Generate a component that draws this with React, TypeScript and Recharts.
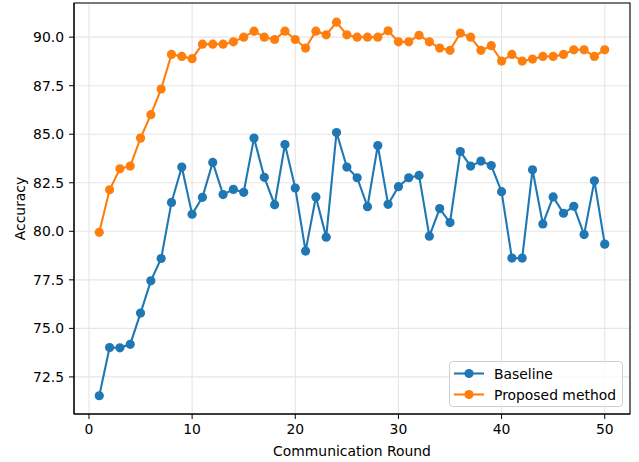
import React from 'react';
import { LineChart, Line, XAxis, YAxis, CartesianGrid, ReferenceArea, Legend } from 'recharts';

const rounds = Array.from({ length: 50 }, (_, i) => i + 1);
const baseline = [
  71.53, 74.01, 74.0, 74.18, 75.79, 77.45, 78.6, 81.49, 83.31, 80.88,
  81.75, 83.55, 81.89, 82.16, 82.01, 84.8, 82.78, 81.37, 84.47, 82.23,
  78.98, 81.77, 79.7, 85.09, 83.31, 82.76, 81.27, 84.42, 81.39, 82.3,
  82.76, 82.88, 79.75, 81.17, 80.45, 84.11, 83.36, 83.62, 83.39, 82.04,
  78.62, 78.62, 83.17, 80.38, 81.77, 80.93, 81.29, 79.83, 82.6, 79.34,
];
const proposed = [
  79.95, 82.14, 83.22, 83.36, 84.8, 86.01, 87.33, 89.11, 89.01, 88.89,
  89.64, 89.64, 89.64, 89.76, 90.0, 90.31, 90.0, 89.88, 90.31, 89.88,
  89.44, 90.31, 90.12, 90.77, 90.12, 90.0, 90.0, 90.0, 90.33, 89.76,
  89.76, 90.1, 89.76, 89.44, 89.32, 90.21, 90.0, 89.32, 89.56, 88.77,
  89.11, 88.77, 88.87, 89.01, 89.01, 89.11, 89.35, 89.35, 89.01, 89.35,
];
const xTicks = [0, 10, 20, 30, 40, 50];
const yTicks = [72.5, 75, 77.5, 80, 82.5, 85, 87.5, 90];
const xDomain = [-1.45, 52.45];
const yDomain = [70.59, 91.76];

const data = rounds.map((r, i) => ({ round: r, baseline: baseline[i], proposed: proposed[i] }));

const BLUE = '#1f77b4';
const ORANGE = '#ff7f0e';
const FONT = 'DejaVu Sans';
const FS = 13.9;
const R = 4.6;

const LegendBox = () => (
  <svg width={174} height={46} style={{ display: 'block' }}>
    <rect x={0.5} y={0.5} width={173} height={45} rx={3} fill="#fff" fillOpacity={0.8} stroke="#d0d0d0" />
    <line x1={5} x2={35} y1={12.5} y2={12.5} stroke={BLUE} strokeWidth={2.1} />
    <circle cx={20} cy={12.5} r={R} fill={BLUE} />
    <text x={45} y={17.5} fontFamily={FONT} fontSize={FS} fill="#000">Baseline</text>
    <line x1={5} x2={35} y1={33.5} y2={33.5} stroke={ORANGE} strokeWidth={2.1} />
    <circle cx={20} cy={33.5} r={R} fill={ORANGE} />
    <text x={45} y={38.5} fontFamily={FONT} fontSize={FS} fill="#000">Proposed method</text>
  </svg>
);

export default function App() {
  return (
    <div style={{ position: 'absolute', left: 0, top: 0, width: 639, height: 462, background: '#fff' }}>
      <LineChart
        width={639}
        height={462}
        data={data}
        margin={{ top: 3, right: 9, bottom: 0, left: 0 }}
        style={{ fontFamily: FONT }}
      >
        <CartesianGrid stroke="#e6e6e6" strokeWidth={1.1} />
        <XAxis
          dataKey="round"
          type="number"
          domain={xDomain}
          ticks={xTicks}
          allowDataOverflow
          height={48}
          tickSize={5}
          tickMargin={5}
          stroke="#000"
          tick={{ fill: '#000', fontSize: FS, fontFamily: FONT }}
          label={{
            content: (p: any) => {
              const vb = p.viewBox;
              return (
                <text x={vb.x + vb.width / 2} y={456} textAnchor="middle" fontFamily={FONT} fontSize={FS} fill="#000">
                  Communication Round
                </text>
              );
            },
          }}
        />
        <YAxis
          type="number"
          domain={yDomain}
          ticks={yTicks}
          allowDataOverflow
          width={74}
          tickSize={5}
          tickMargin={5}
          stroke="#000"
          tickFormatter={(v: number) => v.toFixed(1)}
          tick={{ fill: '#000', fontSize: FS, fontFamily: FONT }}
          label={{
            content: (p: any) => {
              const vb = p.viewBox;
              const cy = vb.y + vb.height / 2;
              return (
                <text x={25} y={cy} transform={`rotate(-90 25 ${cy})`} textAnchor="middle" fontFamily={FONT} fontSize={FS} fill="#000">
                  Accuracy
                </text>
              );
            },
          }}
        />
        <ReferenceArea x1={xDomain[0]} x2={xDomain[1]} y1={yDomain[0]} y2={yDomain[1]} fill="none" stroke="#000" strokeWidth={1.1} />
        <Line
          type="linear"
          dataKey="baseline"
          name="Baseline"
          stroke={BLUE}
          strokeWidth={2.1}
          dot={{ r: R, fill: BLUE, stroke: BLUE, strokeWidth: 0 }}
          activeDot={false}
          isAnimationActive={false}
        />
        <Line
          type="linear"
          dataKey="proposed"
          name="Proposed method"
          stroke={ORANGE}
          strokeWidth={2.1}
          dot={{ r: R, fill: ORANGE, stroke: ORANGE, strokeWidth: 0 }}
          activeDot={false}
          isAnimationActive={false}
        />
        <Legend
          layout="vertical"
          align="center"
          verticalAlign="middle"
          wrapperStyle={{ position: 'absolute', left: 449, top: 361, width: 174, height: 46 }}
          content={() => <LegendBox />}
        />
      </LineChart>
    </div>
  );
}
